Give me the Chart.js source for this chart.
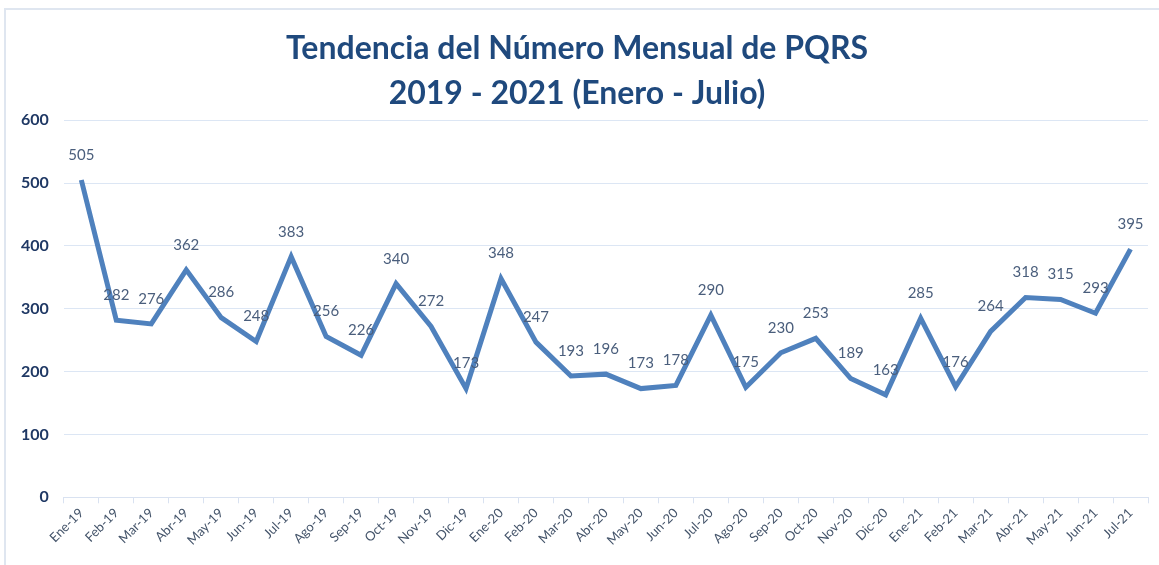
<!DOCTYPE html>
<html lang="es">
<head>
  <meta charset="UTF-8">
  <title>Tendencia del Número Mensual de PQRS</title>
  <script src="https://cdn.jsdelivr.net/npm/chart.js"></script>
  <style>
    body {
      margin: 0;
      padding: 0;
      background: #fff;
    }

    .container {
      position: absolute;
      left: 4px;
      top: 8px;
      width: 1160px;
      height: 560px;
      border-left: 2px solid #dfe6f0;
      border-top: 2px solid #dfe6f0;
    }
  </style>
</head>
<body>
  <div class="container">
    <canvas id="pqrsChart" width="1153" height="555"></canvas>
  </div>

  <script>
    // Meses (eje X)
    const months = [
      'Ene-19', 'Feb-19', 'Mar-19', 'Abr-19', 'May-19', 'Jun-19', 'Jul-19', 'Ago-19', 'Sep-19', 'Oct-19', 'Nov-19', 'Dic-19',
      'Ene-20', 'Feb-20', 'Mar-20', 'Abr-20', 'May-20', 'Jun-20', 'Jul-20', 'Ago-20', 'Sep-20', 'Oct-20', 'Nov-20', 'Dic-20',
      'Ene-21', 'Feb-21', 'Mar-21', 'Abr-21', 'May-21', 'Jun-21', 'Jul-21'
    ];

    // Número de PQRS por mes
    const pqrs = [
      505, 282, 276, 362, 286, 248, 383, 256, 226, 340, 272, 173,
      348, 247, 193, 196, 173, 178, 290, 175, 230, 253, 189, 163,
      285, 176, 264, 318, 315, 293, 395
    ];

    const yTicks = [0, 100, 200, 300, 400, 500, 600];

    const titleLines = ['Tendencia del Número Mensual de PQRS', '2019 - 2021 (Enero - Julio)'];

    // etiquetas de valor sobre cada punto
    const valueLabels = {
      id: 'valueLabels',
      afterDatasetsDraw(chart) {
        const ctx = chart.ctx;
        const meta = chart.getDatasetMeta(0);
        ctx.save();
        ctx.font = '15px Lato, "Open Sans", sans-serif';
        ctx.fillStyle = '#4a5e7c';
        ctx.textAlign = 'center';
        ctx.textBaseline = 'middle';
        meta.data.forEach((pt, i) => {
          ctx.fillText(String(chart.data.datasets[0].data[i]), pt.x, pt.y - 25);
        });
        ctx.restore();
      }
    };

    const ctx = document.getElementById('pqrsChart').getContext('2d');
    new Chart(ctx, {
      type: 'line',
      data: {
        labels: months,
        datasets: [{
          data: pqrs,
          borderColor: '#4f81bd',
          borderWidth: 5,
          pointRadius: 0,
          tension: 0,
          fill: false
        }]
      },
      options: {
        responsive: false,
        animation: false,
        layout: {
          padding: { left: 0, right: 11, top: 0, bottom: 15 }
        },
        plugins: {
          legend: { display: false },
          tooltip: { enabled: false },
          title: {
            display: true,
            text: titleLines,
            color: '#1f497d',
            font: { family: 'Lato, "Open Sans", sans-serif', size: 32, weight: 'bold', lineHeight: 1.38 },
            padding: { top: 17, bottom: 5 }
          }
        },
        scales: {
          x: {
            offset: true,
            grid: {
              display: true,
              drawOnChartArea: false,
              offset: true,
              tickLength: 6,
              color: '#d9e2f1'
            },
            border: { color: '#d9e2f1', width: 1 },
            ticks: {
              color: '#44546a',
              font: { family: 'Lato, "Open Sans", sans-serif', size: 13 },
              minRotation: 45,
              maxRotation: 45,
              autoSkip: false,
              padding: 2
            }
          },
          y: {
            min: yTicks[0],
            max: yTicks[yTicks.length - 1],
            afterBuildTicks(axis) {
              axis.ticks = yTicks.map(v => ({ value: v }));
            },
            grid: {
              color: '#dce6f4',
              lineWidth: 1,
              drawTicks: false
            },
            border: { display: false },
            ticks: {
              color: '#1f3864',
              font: { family: 'Lato, "Open Sans", sans-serif', size: 16, weight: 'bold' },
              padding: 15
            }
          }
        }
      },
      plugins: [valueLabels]
    });
  </script>
</body>
</html>
